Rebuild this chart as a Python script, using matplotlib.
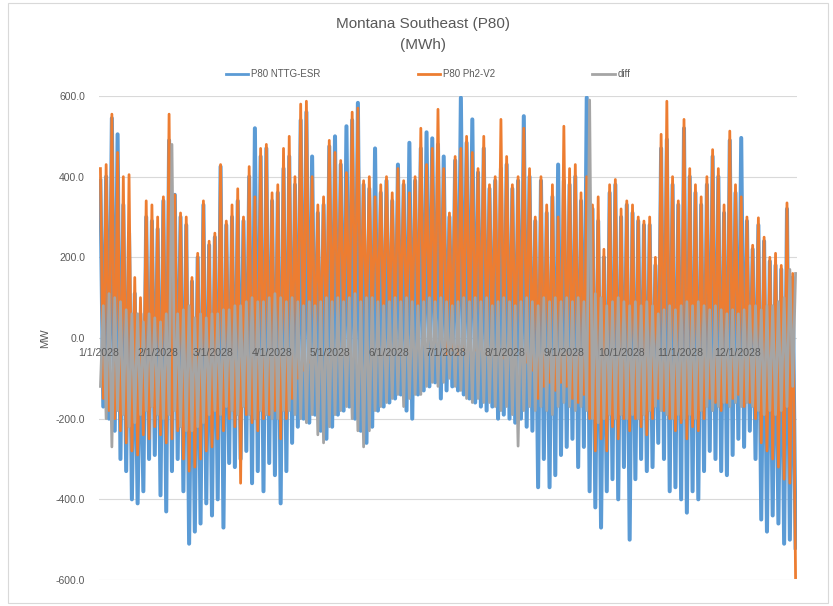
import datetime as dt
import matplotlib
matplotlib.use("Agg")
import matplotlib.pyplot as plt
from matplotlib.patches import Rectangle

plt.rcParams['font.family'] = ['Liberation Sans', 'DejaVu Sans']

# three-day windows through 2028: high and low reached in each window (MW)
ntg_hi = [390, 400, 545, 505, 330, 260, 110, 60, 300, 290, 270,
          340, 490, 355, 300, 280, 140, 200, 330, 230,
          250, 425, 280, 300, 340, 290, 400, 520, 450, 470, 340,
          360, 420, 450, 380, 540, 560, 450, 310, 330, 475, 500, 430, 525, 540,
          583, 380, 370, 470, 360, 390, 340, 430, 380, 484, 390, 470, 510, 495,
          480, 450, 300,
          440, 596, 484, 542, 410, 470, 370, 390, 420, 430, 370, 390, 550, 400,
          290, 390, 310, 350, 430, 390, 380, 400, 340, 596, 320, 290, 200, 360,
          380, 300, 330,
          310, 290, 280, 280, 180, 470, 492, 380, 330, 520, 400, 360, 330, 380,
          450, 400, 310, 490, 360, 496, 290, 220, 280, 240, 190, 180, 170, 320,
          150]
ntg_lo = [-170, -200, -230, -300, -330, -400, -410, -380, -300, -290, -390,
          -430, -330, -300, -380, -510, -480, -460, -410, -440,
          -400, -470, -310, -320, -300, -280, -360, -330, -380, -310, -340,
          -410, -330, -260, -220, -200, -210, -190, -230, -250, -220, -190, -180,
          -170, -200, -230, -260, -220, -180, -170, -160, -150, -140, -180, -200,
          -140, -130, -120, -110, -150, -130, -120,
          -130, -140, -150, -160, -170, -180, -170, -200, -190, -200, -210, -200,
          -220, -230, -370, -300, -370, -340, -290, -270, -250, -320, -270, -380,
          -420, -470, -380, -350, -400, -320, -500,
          -350, -300, -330, -320, -260, -300, -380, -370, -400, -433, -380, -400,
          -330, -280, -300, -330, -340, -290, -250, -270, -230, -300, -450, -480,
          -440, -460, -510, -500, -520]

ph2_hi = [420, 430, 555, 460, 400, 405, 150, 100, 340, 330, 300,
          350, 555, 355, 310, 300, 150, 210, 340, 240,
          260, 430, 290, 330, 370, 300, 425, 350, 470, 480, 360,
          380, 470, 500, 400, 580, 587, 400, 330, 350, 490, 460, 440, 410, 560,
          570, 390, 400, 350, 380, 400, 360, 420, 390, 360, 400, 520, 430, 470,
          567, 420, 310,
          450, 470, 500, 460, 420, 500, 380, 400, 542, 450, 380, 400, 520, 420,
          300, 400, 330, 380, 300, 525, 420, 430, 360, 400, 330, 350, 220, 380,
          393, 320, 340,
          330, 300, 290, 300, 200, 505, 587, 400, 340, 542, 420, 380, 350, 400,
          467, 420, 330, 513, 380, 350, 300, 230, 298, 250, 200, 210, 180, 335,
          160]
ph2_lo = [-150, -180, -200, -230, -260, -280, -290, -240, -250, -220, -240,
          -260, -250, -230, -300, -330, -320, -300, -280, -270,
          -250, -230, -200, -220, -360, -190, -210, -230, -200, -190, -180,
          -250, -200, -150, -100, -80, -60, -50, -40, -20, -20, -30, 0, -10, 10,
          0, 20, 20, 30, 20, 30, 10, 20, 10, 20, 10, 0, 20, -10, 0, -40, -30,
          -40, -30, -20, -30, -20, -40, -30, -40, -50, -40, -60, -50, -60, -80,
          -150, -120, -110, -130, -110, -120, -150, -160, -140, -200, -280, -250,
          -280, -220, -250, -200, -230,
          -200, -220, -240, -200, -150, -180, -200, -230, -210, -250, -220, -230,
          -200, -150, -160, -180, -160, -150, -140, -170, -160, -200, -260, -280,
          -300, -320, -350, -360, -594]

diff_hi = [80, 110, 100, 90, 70, 60, 60, 40, 60, 50, 40,
           60, 480, 60, 70, 80, 50, 60, 50, 60,
           60, 70, 70, 80, 80, 90, 100, 90, 90, 100, 110,
           100, 90, 100, 90, 80, 90, 80, 90, 100, 90, 100, 90, 100, 110,
           90, 100, 100, 90, 80, 90, 100, 90, 100, 90, 80, 90, 100, 90, 100, 90,
           80,
           90, 100, 90, 100, 90, 100, 80, 90, 100, 90, 80, 90, 100, 90,
           80, 100, 90, 100, 90, 100, 90, 100, 90, 590, 110, 100, 80, 90,
           100, 90, 80,
           90, 80, 90, 80, 60, 70, 80, 70, 80, 90, 80, 90, 80, 70, 80, 70, 60,
           70, 60, 70, 80, 80, 70, 80, 80, 90, 100, 170, 160]
diff_lo = [-120, -200, -270, -180, -190, -220, -210, -190, -180, -170, -190,
           -200, -190, -180, -220, -230, -230, -220, -210, -190,
           -180, -190, -170, -180, -190, -170, -190, -200, -180, -190, -200,
           -200, -180, -180, -190, -200, -210, -190, -240, -260, -220, -190,
           -180, -170, -200, -230, -270, -230, -180, -170, -160, -150, -140,
           -170, -150, -140, -140, -120, -110, -120, -110, -100,
           -120, -130, -150, -160, -150, -160, -160, -170, -180, -170, -190,
           -268, -180, -170, -180, -170, -180, -190, -170, -160, -170, -180,
           -170, -180, -200, -210, -200, -190, -200, -190, -200,
           -190, -200, -190, -180, -170, -180, -190, -200, -190, -200, -190,
           -200, -180, -170, -180, -170, -160, -170, -160, -170, -160, -170,
           -180, -190, -180, -190, -180, -170, -120]

series_names = ["P80 NTTG-ESR", "P80 Ph2-V2", "diff"]
series_colors = ["#5B9BD5", "#ED7D31", "#A5A5A5"]
y_ticks = [-600, -400, -200, 0, 200, 400, 600]

start = dt.datetime(2028, 1, 1)
end = dt.datetime(2029, 1, 1)


def zigzag(hi, lo, low_first=False):
    # one high and one low inside each three-day window
    xs, ys = [], []
    for k, (h, l) in enumerate(zip(hi, lo)):
        first, second = (l, h) if low_first else (h, l)
        xs.append(start + dt.timedelta(days=3 * k + 0.75))
        ys.append(first)
        xs.append(start + dt.timedelta(days=3 * k + 2.25))
        ys.append(second)
    return xs, ys


fig = plt.figure(figsize=(8.33, 6.06), dpi=100)
fig.patches.append(Rectangle((8 / 833, 3 / 606), 820 / 833, 600 / 606,
                             transform=fig.transFigure, fill=False,
                             edgecolor="#D9D9D9", linewidth=0.8))

ax = fig.add_axes([99 / 833, 26 / 606, 698 / 833, 484 / 606])

widths = [2.9, 2.0, 2.0]
data = [(ntg_hi, ntg_lo), (ph2_hi, ph2_lo), (diff_hi, diff_lo)]
for i, ((hi, lo), name, color, lw) in enumerate(zip(data, series_names,
                                                     series_colors, widths)):
    # the difference swings against the other two
    xs, ys = zigzag(hi, lo, low_first=(i == 2))
    ax.plot(xs, ys, color=color, lw=lw, label=name)

ax.set_xlim(start, end)
ax.set_ylim(-600, 600)
ax.set_yticks(y_ticks)
ax.set_yticklabels([f"{v:.1f}" for v in y_ticks])
ax.tick_params(axis="y", length=0, pad=10, labelsize=7.5, labelcolor="#595959")
ax.set_xticks([])
ax.grid(axis="y", color="#D9D9D9", lw=0.8)
ax.set_axisbelow(True)
for s in ax.spines.values():
    s.set_visible(False)

# month labels sit on the zero line
for m in range(1, 13):
    d = dt.datetime(2028, m, 1)
    ax.text(d, -37, f"{m}/1/2028", ha="center", va="center",
            fontsize=7.5, color="#595959", zorder=5)

ax.set_ylabel("MW", fontsize=8, color="#595959", labelpad=4)

fig.text(423 / 833, 1 - 24 / 606, "Montana Southeast (P80)", ha="center",
         va="center", fontsize=11, color="#595959")
fig.text(423 / 833, 1 - 45 / 606, "(MWh)", ha="center", va="center",
         fontsize=11, color="#595959")

leg = fig.legend(loc="center", bbox_to_anchor=(428 / 833, 1 - 74 / 606), ncol=3,
                 frameon=False, fontsize=7, labelcolor="#595959", handlelength=2.3,
                 columnspacing=10, handletextpad=0.3)
for line in leg.get_lines():
    line.set_linewidth(2.0)

fig.savefig("out.png", dpi=100)
